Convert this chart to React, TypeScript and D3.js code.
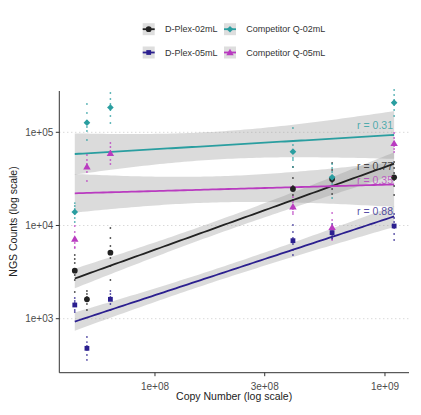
import React from 'react';
import * as d3 from 'd3';

// ---------- data ----------
const copyNumbers = [4.48e7, 5.06e7, 6.4e7, 3.98e8, 5.89e8, 1.096e9];
const seriesNames = ['D-Plex-02mL', 'D-Plex-05mL', 'Competitor Q-02mL', 'Competitor Q-05mL'];
const seriesColors = ['#222222', '#2b1f8f', '#2a9ea0', '#b93bc0'];
const seriesShapes = ['circle', 'square', 'diamond', 'triangle'];
const rLabels = ['r = 0.77', 'r = 0.88', 'r = 0.31', 'r = 0.35'];
const rLabelY = [42740, 14070, 119800, 30240];
const xTicks = [1e8, 3e8, 1e9];
const xTickLabels = ['1e+08', '3e+08', '1e+09'];
const yTicks = [1e3, 1e4, 1e5];
const yTickLabels = ['1e+03', '1e+04', '1e+05'];

// replicate NGS counts per copy-number column
const dplex02 = [
  [4825, 4371, 3960, 2943, 2602, 1934],
  [1983, 1841, 1709, 1587, 1438, 1240],
  [9400, 7340, 6026, 4479, 3677, 2602],
  [42430, 32330, 26530, 21240, 18780, 15410],
  [46830, 39400, 33970, 29290, 24640, 21780],
  [48010, 41390, 36590, 30780, 26530, 21240],
];
const dplex05 = [
  [1668, 1548, 1474, 1369, 1240, 1180],
  [636, 562, 510, 462, 408, 361],
  [1983, 1841, 1709, 1587, 1438, 1240],
  [10120, 8514, 7340, 6332, 5460, 4825],
  [10380, 9400, 8514, 7907, 7340, 7164],
  [13290, 12040, 10900, 9400, 8105, 6988],
];
const compQ02 = [
  [17400, 16190, 15030, 13290, 12040, 10900],
  [201200, 161100, 132200, 114000, 103200, 82700],
  [264000, 227700, 201200, 173500, 149600, 125800],
  [111200, 73060, 61460, 53010, 50450, 42430],
  [45680, 41390, 37500, 32330, 27880, 19730],
  [284300, 251300, 222100, 196300, 173500, 149600],
];
const compQ05 = [
  [9876, 8514, 7340, 6490, 5880, 5735],
  [57060, 50450, 45680, 41390, 37500, 30020],
  [76790, 69560, 63010, 57060, 50450, 45680],
  [20220, 17870, 16190, 15030, 13960, 13290],
  [13620, 11460, 9876, 8730, 8105, 6988],
  [98290, 86860, 78690, 71290, 66190, 61460],
];
const seriesData = [dplex02, dplex05, compQ02, compQ05];

// ---------- layout ----------
const W = 421;
const H = 415;
const panel = { left: 59.3, right: 409, top: 91, bottom: 372.7 };
const FONT = '"Liberation Sans", Arial, Helvetica, sans-serif';

const x = d3.scaleLog().domain([3.837e7, 1.272e9]).range([panel.left, panel.right]);
const y = d3.scaleLog().domain([263.4, 277400]).range([panel.bottom, panel.top]);

const shapeSize: Record<string, number> = { circle: 26, square: 23, diamond: 22, triangle: 24 };

function symbolPath(shape: string) {
  const type =
    shape === 'circle' ? d3.symbolCircle : shape === 'triangle' ? d3.symbolTriangle : d3.symbolSquare;
  return d3.symbol().type(type).size(shapeSize[shape])() as string;
}

function Marker({ shape, cx, cy, color }: { shape: string; cx: number; cy: number; color: string }) {
  const rot = shape === 'diamond' ? ' rotate(45)' : '';
  const dy = shape === 'triangle' ? 0.6 : 0;
  return <path d={symbolPath(shape)} transform={`translate(${cx},${cy + dy})${rot}`} fill={color} />;
}

function fitSeries(reps: number[][]) {
  const pts: [number, number][] = [];
  reps.forEach((col, i) => col.forEach((v) => pts.push([Math.log10(copyNumbers[i]), Math.log10(v)])));
  const n = pts.length;
  const xm = d3.mean(pts, (p) => p[0]) as number;
  const ym = d3.mean(pts, (p) => p[1]) as number;
  let sxx = 0;
  let sxy = 0;
  pts.forEach(([a, b]) => {
    sxx += (a - xm) ** 2;
    sxy += (a - xm) * (b - ym);
  });
  const slope = sxy / sxx;
  const icpt = ym - slope * xm;
  let sse = 0;
  pts.forEach(([a, b]) => {
    sse += (b - (icpt + slope * a)) ** 2;
  });
  const s = Math.sqrt(sse / (n - 2));
  const t = 2.032;
  const lx0 = Math.log10(d3.min(copyNumbers) as number);
  const lx1 = Math.log10(d3.max(copyNumbers) as number);
  return d3.range(80).map((i) => {
    const lx = lx0 + ((lx1 - lx0) * i) / 79;
    const yh = icpt + slope * lx;
    const se = s * Math.sqrt(1 / n + (lx - xm) ** 2 / sxx);
    return { x: 10 ** lx, y: 10 ** yh, lo: 10 ** (yh - t * se), hi: 10 ** (yh + t * se) };
  });
}

export default function App() {
  const fits = seriesData.map(fitSeries);
  const area = d3
    .area<{ x: number; lo: number; hi: number }>()
    .x((d) => x(d.x))
    .y0((d) => y(d.lo))
    .y1((d) => y(d.hi));
  const line = d3
    .line<{ x: number; y: number }>()
    .x((d) => x(d.x))
    .y((d) => y(d.y));

  const legendCols = [142.7, 224];
  const legendRows = [29.2, 52.5];

  return (
    <svg
      width={W}
      height={H}
      style={{ position: 'absolute', left: 0, top: 0, background: '#fff' }}
      fontFamily={FONT}
    >
      <rect x={0} y={0} width={W} height={H} fill="#fff" />

      {/* grid */}
      {yTicks.map((t) => (
        <line
          key={'g' + t}
          x1={panel.left}
          x2={panel.right}
          y1={y(t)}
          y2={y(t)}
          stroke="#c8c8c8"
          strokeWidth={1}
          strokeDasharray="1,3"
        />
      ))}

      {/* confidence bands */}
      {fits.map((f, i) => (
        <path key={'b' + i} d={area(f) as string} fill="#999999" fillOpacity={0.35} />
      ))}
      {/* fit lines */}
      {fits.map((f, i) => (
        <path key={'l' + i} d={line(f) as string} fill="none" stroke={seriesColors[i]} strokeWidth={1.8} />
      ))}

      {/* replicate dots */}
      {seriesData.map((reps, si) =>
        reps.map((col, ci) =>
          col.map((v, k) => (
            <circle
              key={`d${si}-${ci}-${k}`}
              cx={x(copyNumbers[ci])}
              cy={y(v)}
              r={0.9}
              fill={seriesColors[si]}
              fillOpacity={0.8}
            />
          ))
        )
      )}

      {/* means */}
      {seriesData.map((reps, si) =>
        reps.map((col, ci) => {
          const gm = 10 ** (d3.mean(col, (v) => Math.log10(v)) as number);
          return (
            <Marker
              key={`m${si}-${ci}`}
              shape={seriesShapes[si]}
              cx={x(copyNumbers[ci])}
              cy={y(gm)}
              color={seriesColors[si]}
            />
          );
        })
      )}

      {/* r labels */}
      {rLabels.map((lab, i) => (
        <text
          key={'r' + i}
          x={393}
          y={y(rLabelY[i])}
          dy="0.35em"
          textAnchor="end"
          fontSize={10.5}
          fill={seriesColors[i]}
          fillOpacity={0.8}
        >
          {lab}
        </text>
      ))}

      {/* axes */}
      <line x1={panel.left} x2={panel.left} y1={panel.top} y2={panel.bottom} stroke="#333" strokeWidth={1} />
      <line x1={panel.left} x2={panel.right} y1={panel.bottom} y2={panel.bottom} stroke="#333" strokeWidth={1} />
      {yTicks.map((t, i) => (
        <g key={'yt' + t}>
          <line x1={panel.left - 3.5} x2={panel.left} y1={y(t)} y2={y(t)} stroke="#333" />
          <text x={panel.left - 6} y={y(t)} dy="0.35em" textAnchor="end" fontSize={10} fill="#4d4d4d">
            {yTickLabels[i]}
          </text>
        </g>
      ))}
      {xTicks.map((t, i) => (
        <g key={'xt' + t}>
          <line x1={x(t)} x2={x(t)} y1={panel.bottom} y2={panel.bottom + 3.5} stroke="#333" />
          <text x={x(t)} y={panel.bottom + 10} dy="0.71em" textAnchor="middle" fontSize={10} fill="#4d4d4d">
            {xTickLabels[i]}
          </text>
        </g>
      ))}
      <text
        x={(panel.left + panel.right) / 2}
        y={396.7}
        dy="0.35em"
        textAnchor="middle"
        fontSize={10.5}
        fill="#222"
      >
        Copy Number (log scale)
      </text>
      <text
        transform={`translate(13,221.5) rotate(-90)`}
        dy="0.35em"
        textAnchor="middle"
        fontSize={10.5}
        fill="#222"
      >
        NGS Counts (log scale)
      </text>

      {/* legend */}
      {seriesNames.map((name, i) => {
        const lx = legendCols[Math.floor(i / 2)];
        const ly = legendRows[i % 2];
        return (
          <g key={'lg' + i}>
            <rect x={lx} y={ly - 6} width={12} height={12} fill="#dedede" />
            <line x1={lx} x2={lx + 12} y1={ly} y2={ly} stroke={seriesColors[i]} strokeWidth={1.8} />
            <Marker shape={seriesShapes[i]} cx={lx + 6} cy={ly} color={seriesColors[i]} />
            <text x={lx + 22.3} y={ly} dy="0.35em" fontSize={9} fill="#333">
              {name}
            </text>
          </g>
        );
      })}
    </svg>
  );
}
